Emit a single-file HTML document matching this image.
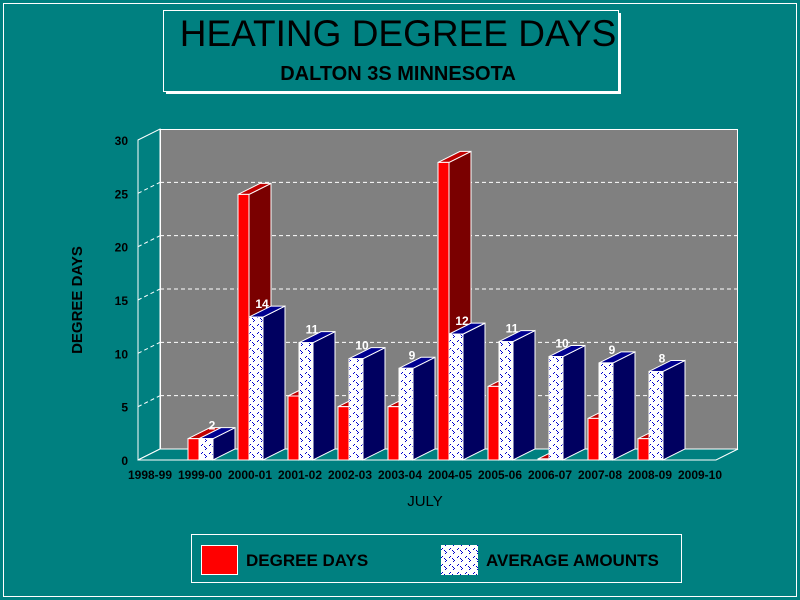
<!DOCTYPE html>
<html><head><meta charset="utf-8"><style>
html,body{margin:0;padding:0;background:#008080;}
svg{display:block;font-family:"Liberation Sans",Arial,sans-serif;}
</style></head><body>
<svg id="c" width="800" height="600" viewBox="0 0 800 600">
<defs>
<pattern id="pat" width="8" height="8" patternUnits="userSpaceOnUse">
<rect width="8" height="8" fill="#fff"/>
<rect x="1" y="5" width="1" height="1" fill="#0000cc"/><rect x="2" y="4" width="1" height="1" fill="#0000cc"/>
<rect x="5" y="1" width="1" height="1" fill="#0000cc"/><rect x="6" y="0" width="1" height="1" fill="#0000cc"/>
<rect x="4" y="6" width="1" height="1" fill="#0000cc"/><rect x="5" y="7" width="1" height="1" fill="#0000cc"/>
</pattern>
</defs>
<rect x="0" y="0" width="800" height="600" fill="#008080"/>
<rect x="3.5" y="3.5" width="793" height="593" fill="none" stroke="#fff" stroke-width="1"/>
<g>
<rect x="166" y="13" width="455" height="81" fill="#fff"/>
<rect x="163.5" y="10.5" width="455" height="81" fill="#008080" stroke="#fff"/>
<text x="398" y="46" text-anchor="middle" font-size="37" fill="#000">HEATING DEGREE DAYS</text>
<text x="398" y="80" text-anchor="middle" font-size="20" font-weight="bold" fill="#000">DALTON 3S MINNESOTA</text>
</g>
<g id="plot"></g>
<text transform="translate(82,300) rotate(-90)" text-anchor="middle" font-size="15" font-weight="bold">DEGREE DAYS</text>
<text x="425" y="506" text-anchor="middle" font-size="15">JULY</text>
<g>
<rect x="191.5" y="534.5" width="490" height="48" fill="none" stroke="#fff"/>
<rect x="201.5" y="545.5" width="36" height="29" fill="#f00" stroke="#fff"/>
<text x="246" y="566" font-size="17" font-weight="bold">DEGREE DAYS</text>
<rect x="441" y="545" width="37" height="30" fill="url(#pat)"/>
<text x="486" y="566" font-size="17" font-weight="bold">AVERAGE AMOUNTS</text>
</g>
</svg>
<script>
const categories=["1998-99","1999-00","2000-01","2001-02","2002-03","2003-04","2004-05","2005-06","2006-07","2007-08","2008-09","2009-10"];
const degreeDays=[0,2.0,24.9,6.0,5.0,5.0,27.9,6.9,0.1,3.9,2.0,0];
const averages=[null,2.0,13.4,11.0,9.5,8.6,11.8,11.1,9.7,9.1,8.3,null];
const avgLabels=["","2","14","11","10","9","12","11","10","9","8",""];
const yTicks=[0,5,10,15,20,25,30];
const NS="http://www.w3.org/2000/svg";
const g=document.getElementById('plot');
const X0=138,X1=716,Y0=460,DX=22,DY=11,K=320/30;
function yS(v){return Y0-v*K;}
function xC(i){return 150+50*i;}
function mk(t,a,p){const e=document.createElementNS(NS,t);for(const k in a)e.setAttribute(k,a[k]);(p||g).appendChild(e);return e;}
let w=mk('rect',{x:X0+DX+.5,y:yS(30)-DY+.5,width:X1-X0-1,height:320,fill:'#808080',stroke:'#fff'});


mk('polygon',{points:`${X0},${yS(30)} ${X0+DX},${yS(30)-DY} ${X0+DX},${Y0-DY} ${X0},${Y0}`,fill:'#008080',stroke:'#fff'});
let f=mk('polygon',{points:`${X0},${Y0} ${X0+DX},${Y0-DY} ${X1+DX},${Y0-DY} ${X1},${Y0}`,fill:'#008080',stroke:'#fff'});


yTicks.forEach(v=>{
 if(v>0&&v<30){
  const gl=mk('line',{x1:X0+DX,y1:yS(v)-DY,x2:X1+DX,y2:yS(v)-DY,stroke:'#fff','stroke-dasharray':'4,3'});
  
  
  mk('line',{x1:X0,y1:yS(v),x2:X0+DX,y2:yS(v)-DY,stroke:'#fff','stroke-dasharray':'4,3'});
 }
 const t=mk('text',{x:128,y:yS(v)+5,'text-anchor':'end','font-size':12,'font-weight':'bold'});
 t.textContent=v;
 
 
});
function bar(x,w,v,front,top,side,name){
 const y=yS(v),b=Y0;
 const grp=mk('g',{});
 
 
 mk('polygon',{points:`${x+w},${y} ${x+w+DX},${y-DY} ${x+w+DX},${b-DY} ${x+w},${b}`,fill:side,stroke:'#fff','stroke-width':1},grp);
 mk('polygon',{points:`${x},${y} ${x+DX},${y-DY} ${x+w+DX},${y-DY} ${x+w},${y}`,fill:top,stroke:'#fff','stroke-width':1},grp);
 mk('rect',{x:x,y:y,width:w,height:b-y,fill:front,stroke:'#fff','stroke-width':1},grp);
}
categories.forEach((c,i)=>{
 const cx=xC(i);
 if(degreeDays[i]>0) bar(cx-12,11,degreeDays[i],'#ff0000','#c00000','#7a0000','bar-degree-days-'+c);
 if(averages[i]!=null){
  bar(cx-1,14,averages[i],'url(#pat)','#000090','#000060','bar-average-'+c);
  const t=mk('text',{x:cx+12,y:yS(averages[i])-DY+2,'text-anchor':'middle','font-size':12,'font-weight':'bold',fill:'#fff'});
  t.textContent=avgLabels[i];
  
  
 }
 const l=mk('text',{x:cx,y:479,'text-anchor':'middle','font-size':12,'font-weight':'bold'});
 l.textContent=c;
 
 
});
</script>
</body></html>
